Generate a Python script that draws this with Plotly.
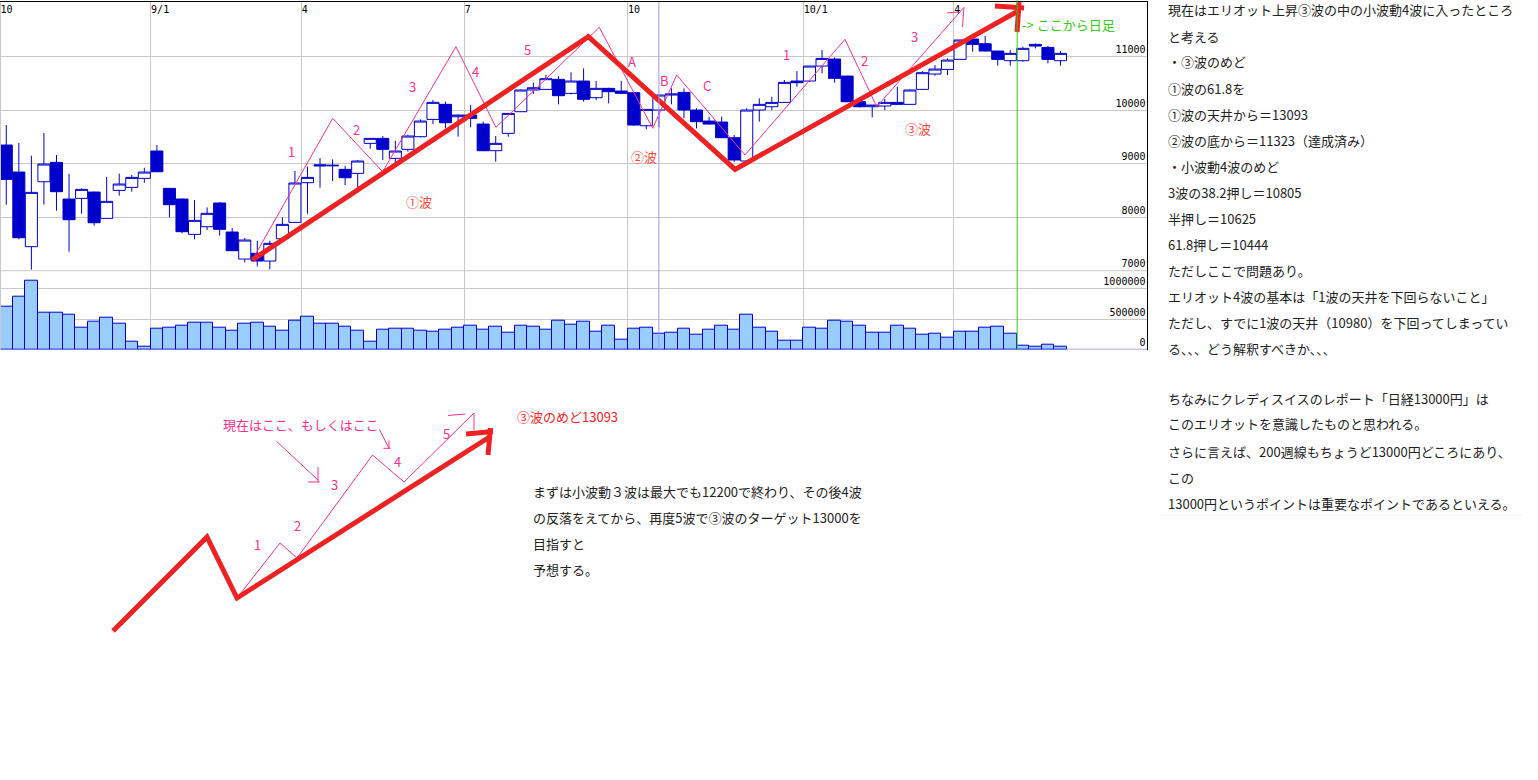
import plotly.graph_objects as go

# ---------------- DATA (bar index 0 = first week of Oct 2008; 0-80 weekly, 81-84 daily) -------------
opens = [9349, 8844, 7449, 8663, 9025, 8339, 8352, 8470, 7978, 8501,
         8557, 8726, 9237, 8539, 8339, 7679, 7822, 8265, 7723, 7218,
         7324, 7181, 7598, 7903, 8645, 8980, 8960, 8894, 8819, 9380,
         9473, 9100, 9268, 9505, 9828, 10109, 9878, 9909, 9741, 9243,
         9567, 9972, 10377, 10389, 10576, 10315, 10545, 10234, 10408, 10358,
         10327, 9710, 10003, 10283, 10333, 10003, 9797, 9779, 9486, 9050,
         10003, 10065, 10146, 10545, 10545, 10825, 10956, 10638, 10159, 10065,
         10078, 10146, 10109, 10389, 10676, 10763, 10950, 11330, 11243, 11106,
         10925, 10925, 11230, 11174, 10925]
highs = [9723, 9386, 9149, 9573, 9162, 8813, 8539, 8480, 8751, 8813,
         8788, 8925, 9349, 8545, 8350, 8321, 8184, 8283, 7797, 7610,
         7561, 7561, 7997, 8863, 8944, 9106, 9081, 8962, 9069, 9473,
         9517, 9430, 9542, 9828, 10190, 10159, 9915, 10096, 9785, 9517,
         9945, 10389, 10514, 10657, 10638, 10707, 10782, 10545, 10420, 10545,
         10340, 10020, 10296, 10408, 10408, 10034, 9878, 9878, 9536, 10034,
         10221, 10252, 10564, 10732, 10830, 11124, 10987, 10645, 10165, 10096,
         10209, 10439, 10389, 10732, 10844, 10968, 11318, 11386, 11386, 11110,
         11124, 11187, 11249, 11199, 11106]
lows = [8234, 7586, 7020, 8234, 8121, 7355, 8065, 7841, 7970, 8402,
        8477, 8645, 8840, 7997, 7700, 7586, 7760, 7654, 7370, 7156,
        7081, 7025, 7590, 7890, 8065, 8551, 8676, 8601, 8539, 9280,
        9069, 9006, 9224, 9492, 9741, 9660, 9505, 9679, 9235, 9037,
        9505, 9965, 10302, 10380, 10109, 10296, 10159, 10190, 10127, 10300,
        9704, 9642, 9679, 10109, 9847, 9660, 9735, 9480, 9037, 9045,
        9785, 10003, 10140, 10439, 10530, 10688, 10514, 10150, 10050, 9866,
        10003, 10100, 10096, 10380, 10645, 10657, 10945, 11093, 11093, 10831,
        10831, 10906, 11156, 10875, 10831]
closes = [8707, 7617, 8464, 8994, 8477, 7953, 8520, 7897, 8296, 8620,
          8744, 8844, 8850, 8234, 7729, 7941, 8072, 7773, 7374, 7573,
          7181, 7511, 7866, 8639, 8744, 8960, 8970, 8738, 9050, 9473,
          9268, 9237, 9517, 9797, 10146, 9766, 9909, 9847, 9243, 9380,
          9940, 10377, 10420, 10589, 10271, 10545, 10203, 10408, 10346, 10315,
          9723, 10015, 10283, 10302, 10003, 9785, 9741, 9486, 9069, 10003,
          10109, 10146, 10520, 10514, 10825, 10968, 10595, 10159, 10065, 10096,
          10146, 10109, 10377, 10701, 10769, 10937, 11312, 11230, 11106, 10950,
          11062, 11156, 11199, 10950, 11062]
volumes = [705000, 868000, 1129000, 608000, 608000, 575000, 363000, 461000, 526000, 429000,
           136000, 54000, 347000, 363000, 396000, 445000, 445000, 363000, 315000, 429000,
           445000, 380000, 315000, 478000, 543000, 429000, 429000, 380000, 315000, 136000,
           331000, 347000, 347000, 315000, 299000, 331000, 363000, 396000, 331000, 380000,
           282000, 396000, 380000, 331000, 478000, 413000, 461000, 299000, 396000, 168000,
           347000, 363000, 266000, 282000, 347000, 250000, 331000, 396000, 331000, 575000,
           363000, 299000, 152000, 152000, 363000, 347000, 478000, 461000, 396000, 282000,
           282000, 396000, 347000, 250000, 266000, 201000, 299000, 299000, 363000, 380000,
           266000, 70000, 55000, 75000, 55000]
bar_index = list(range(len(opens)))

period_ticks = [-0.5, 11.5, 23.5, 36.5, 49.5, 63.5, 75.5]
period_labels = ['10', '9/1', '4', '7', '10', '10/1', '4']
price_ticks = [7000, 8000, 9000, 10000, 11000, 12000]
price_labels = ['7000', '8000', '9000', '10000', '11000', '']
vol_ticks = [0, 500000, 1000000]
vol_labels = ['0', '500000', '1000000']

# hand-drawn wave count (bar index, price)
red_wave_idx = [19.6, 46.38, 58.07, 80.78]
red_wave_price = [7200, 11374, 8895, 11873]
red_head_idx = [78.78, 81.1, None, 80.7, 80.54]
red_head_price = [11947, 11910, None, 12020, 11462]
sub_wave_idx = [19.6, 26.01, 29.99, 35.83, 39.02, 47.25, 51.51, 53.42, 58.86, 66.83, 69.36, 76.31, 76.19, None, 74.96, 75.83]
sub_wave_price = [7200, 9849, 8850, 11187, 9680, 11550, 9662, 10658, 9163, 11325, 10065, 11923, 11555, None, 11817, 11836]
sub_labels = ['1', '2', '3', '4', '5', 'A', 'B', 'C', '1', '2', '3']
sub_label_idx = [22.74, 27.92, 32.38, 37.40, 41.57, 49.88, 52.41, 55.86, 62.13, 68.37, 72.39]
sub_label_price = [9224, 9643, 10452, 10727, 11138, 10907, 10546, 10471, 11045, 10925, 11374]
wave_names = ['①波', '②波', '③波']
wave_name_idx = [32.87, 50.8, 72.63]
wave_name_price = [8290, 9131, 9662]

# ---------------- GEOMETRY / STYLE ----------------
W, H = 1538, 780
PLOT_RIGHT = 1147
PRICE_TOP, PRICE_BOTTOM, VOL_BOTTOM = 2, 270.7, 349.7
BAR_PX = 12.55
PX_PER_1000 = 53.5
PX_PER_500K = 30.7
BLUE = '#0000CC'
GRID = '#C8C8C8'
RED = '#EE2222'
PINK = '#FF2E8C'
REDTXT = '#FF4A3D'
GREEN = '#33CC11'
JP = 'Noto Sans CJK JP'

XMAX = PLOT_RIGHT / BAR_PX - 0.5
PMAX = 7000 + (PRICE_BOTTOM - PRICE_TOP) / PX_PER_1000 * 1000
VMAX = (VOL_BOTTOM - PRICE_BOTTOM) / PX_PER_500K * 500000


def py(y):
    return 1 - y / H


fig = go.Figure()
fig.add_trace(go.Candlestick(
    x=bar_index, open=opens, high=highs, low=lows, close=closes,
    increasing=dict(line=dict(color=BLUE, width=1), fillcolor='white'),
    decreasing=dict(line=dict(color=BLUE, width=1), fillcolor=BLUE),
    whiskerwidth=0, xaxis='x', yaxis='y', hoverinfo='skip', showlegend=False))
fig.add_trace(go.Bar(
    x=bar_index, y=volumes, width=1.0, xaxis='x2', yaxis='y2',
    marker=dict(color='#99CCFF', line=dict(color=BLUE, width=1)), hoverinfo='skip', showlegend=False))

# wave overlays on the price chart
fig.add_trace(go.Scatter(x=sub_wave_idx, y=sub_wave_price, mode='lines', xaxis='x', yaxis='y',
                         line=dict(color=PINK, width=1), hoverinfo='skip', showlegend=False))
fig.add_trace(go.Scatter(x=red_wave_idx, y=red_wave_price, mode='lines', xaxis='x', yaxis='y',
                         line=dict(color=RED, width=5), hoverinfo='skip', showlegend=False))
fig.add_trace(go.Scatter(x=red_head_idx, y=red_head_price, mode='lines', xaxis='x', yaxis='y',
                         line=dict(color=RED, width=5), hoverinfo='skip', showlegend=False))

# bottom sketch drawn on a full-page canvas axis (pixels)
sketch_red_x = [113, 207, 237, 491]
sketch_red_y = [631, 537, 598, 436]
sketch_head_x = [466, 493, None, 490.5, 488]
sketch_head_y = [434, 431.5, None, 428, 455]
sketch_pink_x = [237, 280, 297, 372.5, 404, 474, 474, None, 448, 465.5,
                 None, 276.6, 318, None, 318, 318, None, 308, 319.7,
                 None, 379.3, 389, None, 389, 389, None, 383.4, 390.3]
sketch_pink_y = [598, 543, 558, 455, 482, 413, 430, None, 415.5, 414,
                 None, 441.4, 480, None, 467, 482, None, 482, 482,
                 None, 429.3, 448.3, None, 440.7, 448.3, None, 448.3, 448.3]
fig.add_trace(go.Scatter(x=sketch_pink_x, y=sketch_pink_y, mode='lines', xaxis='x3', yaxis='y3',
                         line=dict(color=PINK, width=1), hoverinfo='skip', showlegend=False))
fig.add_trace(go.Scatter(x=sketch_red_x, y=sketch_red_y, mode='lines', xaxis='x3', yaxis='y3',
                         line=dict(color=RED, width=5), hoverinfo='skip', showlegend=False))
fig.add_trace(go.Scatter(x=sketch_head_x, y=sketch_head_y, mode='lines', xaxis='x3', yaxis='y3',
                         line=dict(color=RED, width=5), hoverinfo='skip', showlegend=False))

annotations = []
for t, xi, pr in zip(sub_labels, sub_label_idx, sub_label_price):
    annotations.append(dict(x=xi, y=pr, xref='x', yref='y', text=t, showarrow=False,
                            font=dict(family=JP, size=13, color=PINK)))
for t, xi, pr in zip(wave_names, wave_name_idx, wave_name_price):
    annotations.append(dict(x=xi, y=pr, xref='x', yref='y', text=t, showarrow=False,
                            font=dict(family=JP, size=13, color=REDTXT)))
annotations.append(dict(x=80.78, y=11611, xref='x', yref='y', text='-> ここから日足', showarrow=False,
                        xanchor='left', font=dict(family=JP, size=13, color=GREEN)))

right_lines = [
    ("現在はエリオット上昇③波の中の小波動4波に入ったところ", 10),
    ("と考える", 36),
    ("・③波のめど", 62),
    ("①波の61.8を", 88),
    ("①波の天井から＝13093", 114),
    ("②波の底から＝11323（達成済み）", 140),
    ("・小波動4波のめど", 166),
    ("3波の38.2押し＝10805", 192),
    ("半押し＝10625", 218),
    ("61.8押し＝10444", 244),
    ("ただしここで問題あり。", 270),
    ("エリオット4波の基本は「1波の天井を下回らないこと」", 296),
    ("ただし、すでに1波の天井（10980）を下回ってしまってい", 322),
    ("る、、、どう解釈すべきか、、、", 348),
    ("ちなみにクレディスイスのレポート「日経13000円」は", 398),
    ("このエリオットを意識したものと思われる。", 424),
    ("さらに言えば、200週線もちょうど13000円どころにあり、", 451),
    ("この", 477),
    ("13000円というポイントは重要なポイントであるといえる。", 503),
]
for t, yy in right_lines:
    annotations.append(dict(x=1166 / W, y=py(yy), xref='paper', yref='paper', text=t, showarrow=False,
                            xanchor='left', yanchor='middle', font=dict(family=JP, size=13, color='#222222')))

mid_lines = [
    ("まずは小波動３波は最大でも12200で終わり、その後4波", 491),
    ("の反落をえてから、再度5波で③波のターゲット13000を", 517),
    ("目指すと", 543),
    ("予想する。", 569),
]
for t, yy in mid_lines:
    annotations.append(dict(x=531 / W, y=py(yy), xref='paper', yref='paper', text=t, showarrow=False,
                            xanchor='left', yanchor='middle', font=dict(family=JP, size=13, color='#222222')))
annotations.append(dict(x=515 / W, y=py(416), xref='paper', yref='paper', text='③波のめど13093', showarrow=False,
                        xanchor='left', yanchor='middle', font=dict(family=JP, size=13, color='#FF2020')))
annotations.append(dict(x=221 / W, y=py(425), xref='paper', yref='paper', text='現在はここ、もしくはここ', showarrow=False,
                        xanchor='left', yanchor='middle', font=dict(family=JP, size=13, color=PINK)))
sketch_labels = [('1', 251.7, 556), ('2', 292, 537), ('3', 328.6, 484), ('4', 392.4, 461), ('5', 441, 433)]
for t, xx, yy in sketch_labels:
    annotations.append(dict(x=xx / W, y=py(yy), xref='paper', yref='paper', text=t, showarrow=False,
                            font=dict(family=JP, size=13, color=PINK)))

shapes = [
    dict(type='line', xref='x', yref='paper', x0=52.0, x1=52.0, y0=py(VOL_BOTTOM), y1=py(PRICE_TOP),
         line=dict(color='#9999EE', width=1)),
    dict(type='line', xref='x', yref='paper', x0=80.55, x1=80.55, y0=py(VOL_BOTTOM), y1=1,
         line=dict(color=GREEN, width=1)),
    dict(type='line', xref='x', yref='paper', x0=84.5, x1=XMAX, y0=py(VOL_BOTTOM - 0.5), y1=py(VOL_BOTTOM - 0.5),
         line=dict(color='#AAAAEE', width=1)),
    dict(type='line', xref='paper', yref='paper', x0=0.5 / W, x1=0.5 / W, y0=py(VOL_BOTTOM), y1=py(PRICE_TOP),
         line=dict(color=GRID, width=1)),
    dict(type='line', xref='paper', yref='paper', x0=0, x1=PLOT_RIGHT / W, y0=py(PRICE_BOTTOM), y1=py(PRICE_BOTTOM),
         line=dict(color=GRID, width=1), layer='below'),
    dict(type='line', xref='paper', yref='paper', x0=1160 / W, x1=1522 / W, y0=py(515), y1=py(515),
         line=dict(color='#F0F0F0', width=1)),
]

tickfont = dict(family='DejaVu Sans Mono', size=10, color='black')
fig.update_layout(
    width=W, height=H, margin=dict(l=0, r=0, t=0, b=0),
    paper_bgcolor='white', plot_bgcolor='rgba(0,0,0,0)',
    showlegend=False, hovermode=False, boxgap=0.04, boxgroupgap=0, bargap=0,
    xaxis=dict(domain=[0, PLOT_RIGHT / W], range=[-0.5, XMAX], anchor='y', side='top',
               showline=True, linecolor='black', linewidth=1, showgrid=True, gridcolor=GRID, gridwidth=1,
               tickvals=period_ticks, ticktext=period_labels, ticks='', ticklabelposition='inside right',
               tickfont=tickfont, zeroline=False, rangeslider=dict(visible=False), fixedrange=True),
    yaxis=dict(domain=[py(PRICE_BOTTOM), py(PRICE_TOP)], range=[7000, PMAX], anchor='x', side='right',
               showline=True, linecolor='black', linewidth=1, showgrid=True, gridcolor=GRID,
               tickvals=price_ticks, ticktext=price_labels, ticks='', ticklabelposition='inside top',
               tickfont=tickfont, zeroline=False, fixedrange=True),
    xaxis2=dict(domain=[0, PLOT_RIGHT / W], range=[-0.5, XMAX], anchor='y2', matches='x',
                showline=False, showgrid=True, gridcolor=GRID, tickvals=period_ticks, showticklabels=False,
                ticks='', zeroline=False, fixedrange=True),
    yaxis2=dict(domain=[py(VOL_BOTTOM), py(PRICE_BOTTOM)], range=[0, VMAX], anchor='x2', side='right',
                showline=True, linecolor='black', linewidth=1, showgrid=True, gridcolor=GRID,
                tickvals=vol_ticks, ticktext=vol_labels, ticks='', ticklabelposition='inside top',
                tickfont=tickfont, zeroline=False, fixedrange=True),
    xaxis3=dict(domain=[0, 1], range=[0, W], anchor='y3', visible=False, fixedrange=True),
    yaxis3=dict(domain=[0, 1], range=[H, 0], anchor='x3', visible=False, fixedrange=True),
    annotations=annotations, shapes=shapes,
)

fig.write_html("out.html", include_plotlyjs=True, config={'displayModeBar': False},
               post_script="document.body.style.margin='0';")
